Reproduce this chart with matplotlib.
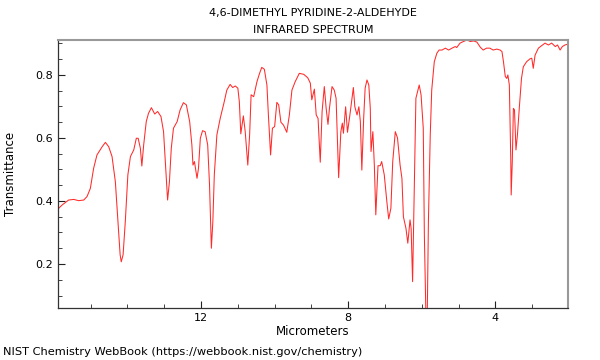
import matplotlib
matplotlib.use("Agg")
import matplotlib.pyplot as plt
from matplotlib.ticker import MultipleLocator

title_lines = ["4,6-DIMETHYL PYRIDINE-2-ALDEHYDE", "INFRARED SPECTRUM"]
x_label = "Micrometers"
y_label = "Transmittance"
credit = "NIST Chemistry WebBook (https://webbook.nist.gov/chemistry)"

micrometers = [
    15.92, 15.78, 15.60, 15.46, 15.33, 15.19, 15.10, 15.01, 14.92, 14.83,
    14.69, 14.60, 14.51, 14.42, 14.33, 14.26, 14.20, 14.17, 14.12, 14.06,
    13.99, 13.92, 13.83, 13.76, 13.71, 13.65, 13.61, 13.56, 13.49, 13.43,
    13.35, 13.26, 13.18, 13.09, 13.02, 12.96, 12.91, 12.86, 12.81, 12.75,
    12.65, 12.57, 12.48, 12.40, 12.31, 12.25, 12.22, 12.18, 12.11, 12.07,
    12.02, 11.96, 11.89, 11.82, 11.77, 11.72, 11.68, 11.64, 11.57, 11.48,
    11.37, 11.30, 11.21, 11.14, 11.07, 11.00, 10.96, 10.92, 10.85, 10.80,
    10.73, 10.68, 10.64, 10.57, 10.48, 10.41, 10.35, 10.28, 10.21, 10.17,
    10.11, 10.06, 10.00, 9.94, 9.89, 9.83, 9.76, 9.67, 9.60, 9.53,
    9.44, 9.33, 9.21, 9.10, 9.03, 8.99, 8.92, 8.87, 8.82, 8.76,
    8.71, 8.65, 8.60, 8.55, 8.51, 8.44, 8.38, 8.33, 8.26, 8.20,
    8.16, 8.13, 8.07, 8.02, 7.96, 7.91, 7.86, 7.82, 7.76, 7.71,
    7.67, 7.63, 7.58, 7.54, 7.49, 7.44, 7.40, 7.38, 7.33, 7.29,
    7.25, 7.19, 7.13, 7.09, 7.02, 6.95, 6.90, 6.84, 6.79, 6.72,
    6.66, 6.59, 6.54, 6.50, 6.43, 6.38, 6.32, 6.29, 6.25, 6.21,
    6.16, 6.07, 6.02, 5.96, 5.93, 5.89, 5.85, 5.82, 5.77, 5.73,
    5.66, 5.59, 5.53, 5.45, 5.36, 5.27, 5.18, 5.09, 5.05, 4.96,
    4.87, 4.77, 4.68, 4.59, 4.50, 4.41, 4.33, 4.24, 4.15, 4.06,
    3.96, 3.87, 3.82, 3.78, 3.73, 3.69, 3.66, 3.62, 3.58, 3.57,
    3.54, 3.51, 3.48, 3.44, 3.40, 3.35, 3.29, 3.24, 3.15, 3.06,
    3.01, 2.97, 2.92, 2.83, 2.74, 2.65, 2.56, 2.47, 2.37, 2.31,
    2.24, 2.18, 2.11, 2.05,
]
transmittance = [
    0.371, 0.387, 0.403, 0.405, 0.401, 0.403, 0.414, 0.440, 0.504, 0.546,
    0.572, 0.586, 0.572, 0.541, 0.461, 0.334, 0.229, 0.207, 0.229, 0.334,
    0.483, 0.541, 0.562, 0.599, 0.599, 0.567, 0.511, 0.578, 0.652, 0.678,
    0.696, 0.676, 0.684, 0.668, 0.620, 0.504, 0.403, 0.461, 0.567, 0.631,
    0.652, 0.689, 0.712, 0.705, 0.652, 0.578, 0.514, 0.525, 0.472, 0.504,
    0.599, 0.623, 0.620, 0.578, 0.451, 0.250, 0.334, 0.483, 0.610, 0.662,
    0.715, 0.752, 0.770, 0.760, 0.765, 0.758, 0.715, 0.613, 0.670, 0.620,
    0.514, 0.610, 0.737, 0.731, 0.779, 0.805, 0.824, 0.818, 0.768, 0.673,
    0.546, 0.631, 0.636, 0.713, 0.705, 0.650, 0.641, 0.618, 0.673, 0.752,
    0.779, 0.805, 0.802, 0.791, 0.774, 0.721, 0.755, 0.673, 0.662, 0.523,
    0.684, 0.763, 0.694, 0.643, 0.694, 0.763, 0.752, 0.726, 0.474, 0.620,
    0.647, 0.615, 0.699, 0.618, 0.668, 0.715, 0.760, 0.699, 0.673, 0.699,
    0.652, 0.498, 0.662, 0.758, 0.784, 0.768, 0.694, 0.557, 0.620, 0.514,
    0.356, 0.512, 0.512, 0.525, 0.483, 0.398, 0.343, 0.377, 0.525, 0.620,
    0.600, 0.514, 0.472, 0.350, 0.313, 0.266, 0.340, 0.313, 0.144, 0.398,
    0.726, 0.768, 0.737, 0.631, 0.292, 0.050, 0.050, 0.334, 0.610, 0.752,
    0.842, 0.869, 0.879, 0.879, 0.885, 0.879, 0.885, 0.890, 0.887, 0.901,
    0.906, 0.911, 0.906, 0.908, 0.904, 0.888, 0.879, 0.885, 0.885, 0.879,
    0.882, 0.879, 0.874, 0.842, 0.795, 0.789, 0.800, 0.768, 0.525, 0.419,
    0.525, 0.694, 0.689, 0.562, 0.610, 0.694, 0.789, 0.826, 0.842, 0.851,
    0.853, 0.821, 0.863, 0.885, 0.893, 0.901, 0.895, 0.901, 0.890, 0.895,
    0.879, 0.890, 0.895, 0.897,
]
x_major_ticks = [12, 8, 4]
y_major_ticks = [0.2, 0.4, 0.6, 0.8]

fig = plt.figure(figsize=(6, 3.6), dpi=100)
ax = fig.add_axes([0.096, 0.145, 0.851, 0.744])
ax.plot(micrometers, transmittance, color="#ff2a2a", lw=0.75)
ax.set_xlim(15.9, 2.02)
ax.set_ylim(0.061, 0.911)

ax.set_xticks(x_major_ticks)
ax.set_xticklabels([str(t) for t in x_major_ticks])
ax.xaxis.set_minor_locator(MultipleLocator(1))
ax.set_yticks(y_major_ticks)
ax.set_yticklabels([f"{t:.1f}" for t in y_major_ticks])
ax.yaxis.set_minor_locator(MultipleLocator(0.05))
ax.tick_params(which="both", direction="in", labelsize=8, colors="#222222")
ax.tick_params(which="major", length=5, width=0.8)
ax.tick_params(which="minor", length=3, width=0.6)
ax.tick_params(axis="both", labelcolor="black")

for side in ["left", "bottom"]:
    ax.spines[side].set_color("#333333")
    ax.spines[side].set_linewidth(0.9)
for side in ["top", "right"]:
    ax.spines[side].set_color("#999999")
    ax.spines[side].set_linewidth(1.5)

ax.set_xlabel(x_label, fontsize=8.5, labelpad=2)
ax.set_ylabel(y_label, fontsize=8.5, labelpad=13)
fig.text(0.522, 0.965, title_lines[0], ha="center", va="center", fontsize=8)
fig.text(0.522, 0.918, title_lines[1], ha="center", va="center", fontsize=8)
fig.text(0.005, 0.022, credit, ha="left", va="center", fontsize=8.2)

fig.savefig("out.png", dpi=100)
